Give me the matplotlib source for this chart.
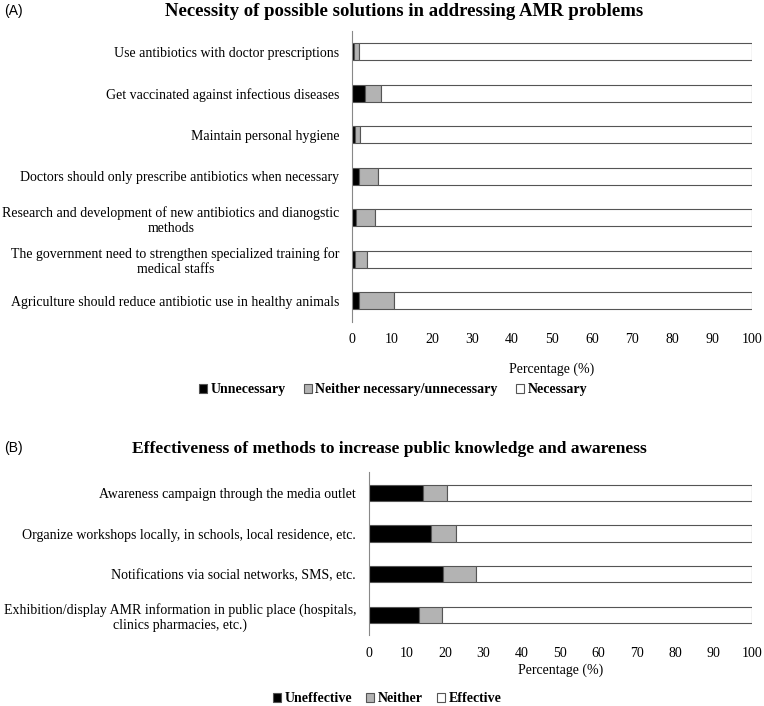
import matplotlib
matplotlib.use('Agg')
import matplotlib.pyplot as plt
from matplotlib.patches import Patch

plt.rcParams['font.family'] = 'Liberation Serif'

# Panel A data (%)
labels_a = [
    "Use antibiotics with doctor prescriptions",
    "Get vaccinated against infectious diseases",
    "Maintain personal hygiene",
    "Doctors should only prescribe antibiotics when necessary",
    "Research and development of new antibiotics and dianogstic\nmethods",
    "The government need to strengthen specialized training for\nmedical staffs",
    "Agriculture should reduce antibiotic use in healthy animals",
]
unnecessary = [0.5, 3.2, 0.7, 1.8, 1.0, 0.7, 1.8]
neither_a = [1.3, 4.1, 1.4, 4.6, 4.8, 3.1, 8.8]
necessary = [100 - u - n for u, n in zip(unnecessary, neither_a)]

# Panel B data (%)
labels_b = [
    "Awareness campaign through the media outlet",
    "Organize workshops locally, in schools, local residence, etc.",
    "Notifications via social networks, SMS, etc.",
    "Exhibition/display AMR information in public place (hospitals,\nclinics pharmacies, etc.)",
]
uneffective = [14.2, 16.4, 19.3, 13.2]
neither_b = [6.2, 6.4, 8.7, 5.9]
effective = [100 - u - n for u, n in zip(uneffective, neither_b)]

W, H = 764, 706
fig = plt.figure(figsize=(W / 100, H / 100), dpi=100)

colors = ['black', '#b3b3b3', 'white']
edge = '#555555'


def panel(ax, labels, series, labelpad):
    y = list(range(len(labels)))
    left = [0] * len(labels)
    for vals, c in zip(series, colors):
        ax.barh(y, vals, left=left, height=0.4, color=c, edgecolor=edge, linewidth=0.8)
        left = [l + v for l, v in zip(left, vals)]
    ax.set_yticks(y)
    ax.set_yticklabels(labels, fontsize=10)
    for t in ax.get_yticklabels():
        t.set_multialignment('center')
    ax.set_ylim(len(labels) - 0.5, -0.5)
    ax.set_xlim(0, 100)
    ax.set_xticks(range(0, 101, 10))
    ax.tick_params(axis='x', length=0, labelsize=10, pad=8)
    ax.tick_params(axis='y', length=0, pad=9)
    for s in ['top', 'right', 'bottom']:
        ax.spines[s].set_visible(False)
    ax.spines['left'].set_color('#888888')
    ax.spines['left'].set_linewidth(0.8)
    ax.set_xlabel('Percentage (%)', fontsize=10, labelpad=labelpad)


ax_a = fig.add_axes([352 / W, 1 - 321.5 / H, 400 / W, 290.5 / H])
panel(ax_a, labels_a, [unnecessary, neither_a, necessary], 12)
ax_b = fig.add_axes([368.5 / W, 1 - 635.4 / H, 383.5 / W, 163 / H])
panel(ax_b, labels_b, [uneffective, neither_b, effective], 3)

fig.text(404 / W, 1 - 12 / H, 'Necessity of possible solutions in addressing AMR problems',
         ha='center', va='center', fontsize=13.5, fontweight='bold')
fig.text(389 / W, 1 - 449 / H, 'Effectiveness of methods to increase public knowledge and awareness',
         ha='center', va='center', fontsize=12.5, fontweight='bold')
fig.text(4 / W, 1 - 11 / H, '(A)', ha='left', va='center', fontsize=10, family='Liberation Sans')
fig.text(4 / W, 1 - 448 / H, '(B)', ha='left', va='center', fontsize=10, family='Liberation Sans')

handles = [Patch(facecolor=c, edgecolor=edge, linewidth=0.8) for c in colors]
fig.legend(handles, ['Unnecessary', 'Neither necessary/unnecessary', 'Necessary'],
           loc='center', bbox_to_anchor=(393 / W, 1 - 390 / H), ncol=3, frameon=False,
           prop={'weight': 'bold', 'size': 10}, handlelength=0.6, handleheight=0.6,
           handletextpad=0.25, columnspacing=1.3)
fig.legend(handles, ['Uneffective', 'Neither', 'Effective'],
           loc='center', bbox_to_anchor=(387 / W, 1 - 699 / H), ncol=3, frameon=False,
           prop={'weight': 'bold', 'size': 10}, handlelength=0.6, handleheight=0.6,
           handletextpad=0.25, columnspacing=1.0)

fig.savefig('out.png', dpi=100)
